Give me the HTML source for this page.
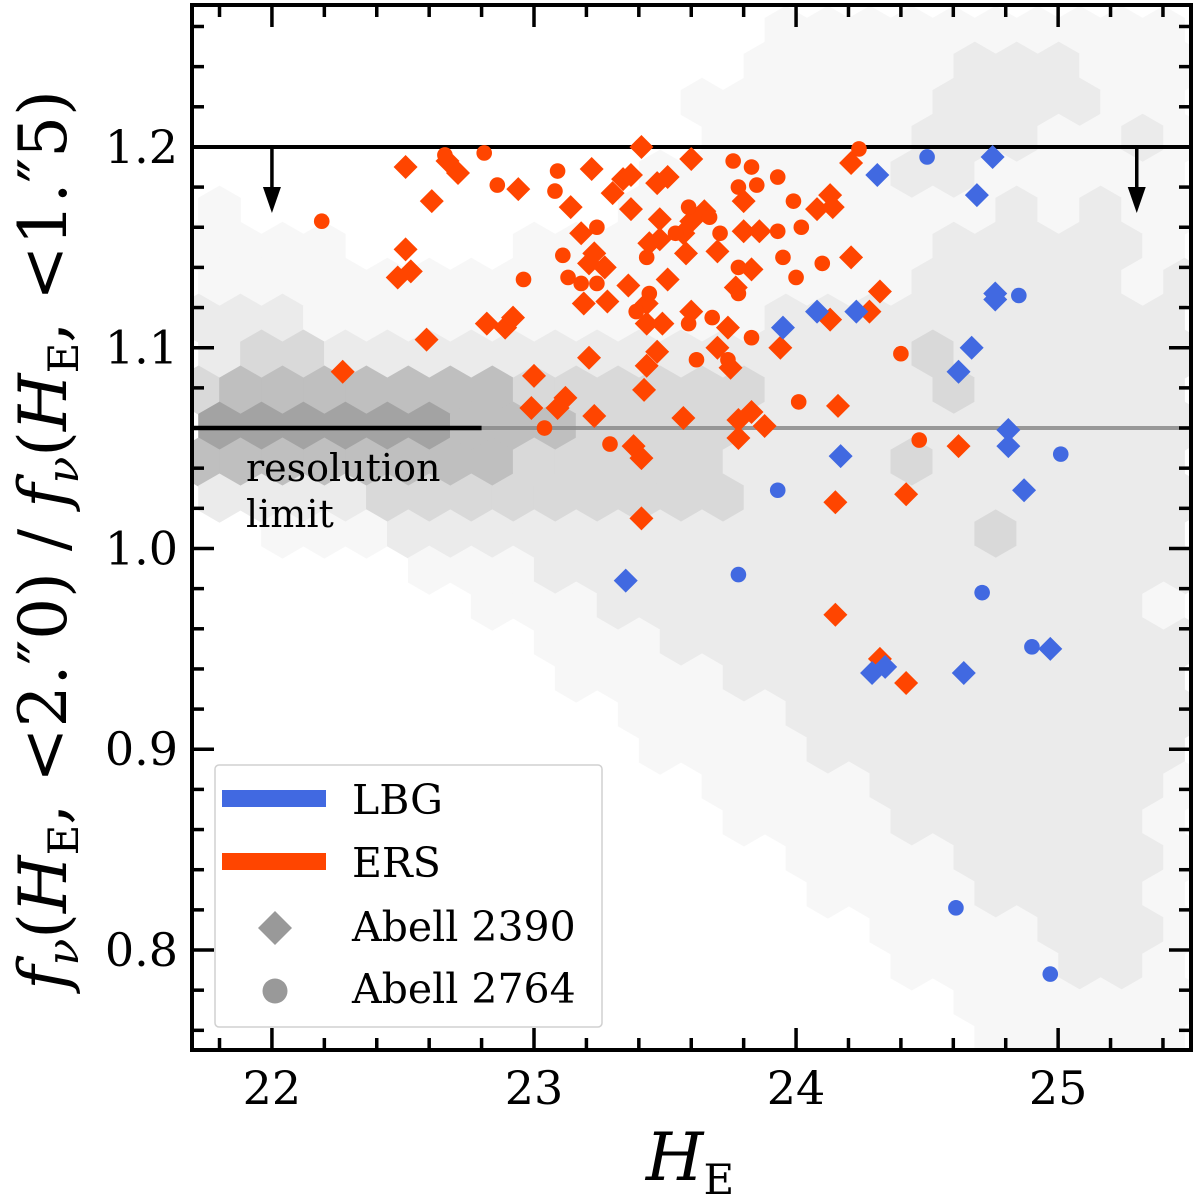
<!DOCTYPE html>
<html>
<head>
<meta charset="utf-8">
<style>
  html, body { margin: 0; padding: 0; background: #fff; }
  svg { display: block; }
  text { font-family: "DejaVu Serif", "Liberation Serif", serif; fill: #000; }
</style>
</head>
<body>
<svg id="chart" width="1200" height="1199" viewBox="0 0 1200 1199" xmlns="http://www.w3.org/2000/svg">
  <g id="hexbin"></g>
  <g id="reflines"></g>
  <g id="points"></g>
  <g id="legend"></g>
  <g id="axes"></g>
  <text x="690" y="1180" text-anchor="middle" font-size="66" font-style="italic">H<tspan font-style="normal" font-size="42" dy="14">E</tspan></text>
  <text transform="translate(66,540) rotate(-90)" text-anchor="middle" font-size="66"><tspan font-style="italic">f</tspan><tspan font-style="italic" font-size="44" dy="12">ν</tspan><tspan dy="-12">(</tspan><tspan font-style="italic">H</tspan><tspan font-size="42" dy="12">E</tspan><tspan dy="-12">, &lt;2.″0) / </tspan><tspan font-style="italic">f</tspan><tspan font-style="italic" font-size="44" dy="12">ν</tspan><tspan dy="-12">(</tspan><tspan font-style="italic">H</tspan><tspan font-size="42" dy="12">E</tspan><tspan dy="-12">, &lt;1.″5)</tspan></text>
</svg>
<script>
// ---- axis domain ----
const xDomain = [21.695, 25.507];
const yDomain = [0.7502, 1.2707];
const xTicks = [22, 23, 24, 25];
const xTickLabels = ["22", "23", "24", "25"];
const yTicks = [0.8, 0.9, 1.0, 1.1, 1.2];
const yTickLabels = ["0.8", "0.9", "1.0", "1.1", "1.2"];

// ---- series (H_E, ratio) ----
const ersDiamondX = [22.51,22.61,22.67,22.71,22.51,22.48,22.53,22.59,22.27,22.82,22.89,22.92,22.94,23.00,22.99,23.12,23.09,23.23,23.21,23.18,23.14,23.22,23.30,23.34,23.37,23.41,23.47,23.51,23.60,23.37,23.48,23.60,23.65,23.80,24.13,24.08,24.14,24.21,23.44,23.48,23.57,23.58,23.70,23.80,23.86,23.23,23.21,23.27,24.21,23.83,23.51,23.36,23.77,23.19,23.28,23.43,23.43,23.49,23.60,23.74,24.32,24.28,24.13,23.47,23.43,23.70,23.75,23.94,23.42,23.57,23.78,23.83,23.88,23.78,24.16,23.38,23.41,23.41,24.62,24.15,24.42,24.15,24.32,24.42];
const ersDiamondY = [1.190,1.173,1.193,1.187,1.149,1.135,1.138,1.104,1.088,1.112,1.110,1.115,1.179,1.086,1.070,1.075,1.070,1.066,1.095,1.157,1.170,1.189,1.177,1.184,1.186,1.200,1.182,1.185,1.194,1.169,1.164,1.163,1.168,1.173,1.176,1.169,1.170,1.192,1.152,1.154,1.157,1.147,1.148,1.158,1.158,1.147,1.142,1.140,1.145,1.139,1.134,1.131,1.130,1.122,1.123,1.122,1.112,1.112,1.118,1.110,1.128,1.118,1.114,1.098,1.091,1.100,1.090,1.100,1.079,1.065,1.064,1.068,1.061,1.055,1.071,1.051,1.045,1.015,1.051,1.023,1.027,0.967,0.945,0.933];
const ersCircleX = [22.19,22.66,22.81,22.86,23.09,23.08,23.76,23.83,23.93,23.78,23.85,24.24,23.99,23.59,23.67,23.24,23.54,23.71,23.93,24.02,23.11,23.43,23.95,24.10,22.96,23.13,23.18,23.24,23.44,23.78,23.78,24.00,23.39,23.59,23.68,23.83,23.62,23.74,24.01,23.04,23.29,24.47,24.40];
const ersCircleY = [1.163,1.196,1.197,1.181,1.188,1.178,1.193,1.190,1.185,1.180,1.181,1.199,1.173,1.170,1.165,1.160,1.157,1.157,1.158,1.160,1.146,1.145,1.145,1.142,1.134,1.135,1.132,1.132,1.127,1.140,1.127,1.135,1.118,1.112,1.115,1.105,1.094,1.094,1.073,1.060,1.052,1.054,1.097];
const lbgDiamondX = [24.31,24.75,24.69,24.08,24.23,23.95,24.17,24.81,24.81,24.76,24.76,24.67,24.62,24.87,24.97,24.29,24.34,24.64,23.35];
const lbgDiamondY = [1.186,1.195,1.176,1.118,1.118,1.110,1.046,1.059,1.051,1.127,1.124,1.100,1.088,1.029,0.950,0.938,0.941,0.938,0.984];
const lbgCircleX = [24.50,24.85,25.01,23.93,24.71,24.90,23.78,24.61,24.97];
const lbgCircleY = [1.195,1.126,1.047,1.029,0.978,0.951,0.987,0.821,0.788];

// ---- hexbin density levels ----
const hexRowY = [1.2581,1.2402,1.2222,1.2043,1.1864,1.1685,1.1505,1.1326,1.1147,1.0968,1.0789,1.0609,1.0430,1.0251,1.0072,0.9892,0.9713,0.9534,0.9355,0.9176,0.8996,0.8817,0.8638,0.8459,0.8279,0.8100,0.7921,0.7742,0.7562];
const hexLevels = [
"000000000000001111111111",
"000000000000011111222111",
"000000000000111111222211",
"000000000000111112221121",
"000000000001111112211111",
"100000000011111111121211",
"111100001111111111222221",
"111111111111111112222212",
"222111111111112222222222",
"233222222222222223222222",
"344444443333332222322222",
"555555444333322222222222",
"444444443333322223222222",
"222233333333322222222222",
"001112222222222222232222",
"000001112222222222222222",
"000000011122222222222221",
"000000001112222222222222",
"000000000111122222222222",
"000000000011112222222222",
"000000000001111222222222",
"000000000000111122222221",
"000000000000011112222221",
"000000000000001111222221",
"000000000000000111122221",
"000000000000000011112221",
"000000000000000001111221",
"000000000000000000111111",
"000000000000000000011111"
];
const hexX0 = 21.72, hexDX = 0.1601;
const hexColors = ["none","#f7f7f7","#ebebeb","#d9d9d9","#bfbfbf","#a3a3a3"];

const PL = 192, PR = 1191, PT = 5, PB = 1050;
const NS = "http://www.w3.org/2000/svg";
function X(v){ return PL + (v - xDomain[0]) / (xDomain[1] - xDomain[0]) * (PR - PL); }
function Y(v){ return PB - (v - yDomain[0]) / (yDomain[1] - yDomain[0]) * (PB - PT); }
function mk(tag, attrs, parent){
  const e = document.createElementNS(NS, tag);
  for (const k in attrs) e.setAttribute(k, attrs[k]);
  parent.appendChild(e);
  return e;
}

const svg = document.getElementById('chart');
const defs = mk('defs', {}, svg);
svg.insertBefore(defs, svg.firstChild);
const cp = mk('clipPath', {id:'plotclip'}, defs);
mk('rect', {x:PL, y:PT, width:PR-PL, height:PB-PT}, cp);

// hexbin
const hexG = document.getElementById('hexbin');
hexG.setAttribute('clip-path','url(#plotclip)');
const hr = 24.6, hw = hr * Math.sqrt(3);
hexLevels.forEach((row, j) => {
  for (let i = 0; i < row.length; i++) {
    const lvl = +row[i];
    if (!lvl) continue;
    const cx = X(hexX0 + hexDX * i + (j % 2 ? hexDX / 2 : 0));
    const cy = Y(hexRowY[j]);
    const pts = [[cx,cy-hr],[cx+hw/2,cy-hr/2],[cx+hw/2,cy+hr/2],[cx,cy+hr],[cx-hw/2,cy+hr/2],[cx-hw/2,cy-hr/2]].map(p=>p[0].toFixed(1)+','+p[1].toFixed(1)).join(' ');
    const h = mk('polygon', {points:pts, fill:hexColors[lvl]}, hexG);
    
    
  }
});

// reference lines
const rl = document.getElementById('reflines');
let e;
e = mk('line', {x1:PL, x2:PR, y1:Y(1.2), y2:Y(1.2), stroke:'#000', 'stroke-width':4}, rl);


[22.0, 25.3].forEach(ax => {
  const x = X(ax);
  const a = mk('line', {x1:x, x2:x, y1:Y(1.2), y2:Y(1.2)+44, stroke:'#000', 'stroke-width':3.5}, rl);
  
  
  const hd = mk('polygon', {points:`${x-9},${Y(1.2)+40} ${x+9},${Y(1.2)+40} ${x},${Y(1.2)+66}`, fill:'#000'}, rl);
  
  
});
e = mk('line', {x1:X(22.8), x2:PR, y1:Y(1.06), y2:Y(1.06), stroke:'#8a8a8a', 'stroke-width':4, 'stroke-opacity':0.85}, rl);


e = mk('line', {x1:PL, x2:X(22.8), y1:Y(1.06), y2:Y(1.06), stroke:'#000', 'stroke-width':4.5}, rl);


e = mk('text', {x:246, y:481, 'font-size':38}, rl);
e.textContent = 'resolution';


e = mk('text', {x:246, y:527, 'font-size':38}, rl);
e.textContent = 'limit';



// points
const pg = document.getElementById('points');
pg.setAttribute('clip-path','url(#plotclip)');
function diamond(x, y, c, name){
  const d = 12;
  const p = mk('polygon', {points:`${x},${y-d} ${x+d},${y} ${x},${y+d} ${x-d},${y}`, fill:c}, pg);
  
  
}
function circle(x, y, c, name){
  const p = mk('circle', {cx:x, cy:y, r:7.8, fill:c}, pg);
  
  
}
const ORANGE = '#ff4500', BLUE = '#4169e1';
ersDiamondX.forEach((v,i) => diamond(X(v), Y(ersDiamondY[i]), ORANGE, 'ers-abell2390-point'));
ersCircleX.forEach((v,i) => circle(X(v), Y(ersCircleY[i]), ORANGE, 'ers-abell2764-point'));
lbgDiamondX.forEach((v,i) => diamond(X(v), Y(lbgDiamondY[i]), BLUE, 'lbg-abell2390-point'));
lbgCircleX.forEach((v,i) => circle(X(v), Y(lbgCircleY[i]), BLUE, 'lbg-abell2764-point'));

// legend
const lg = document.getElementById('legend');
e = mk('rect', {x:215, y:765, width:387, height:262, rx:4, fill:'#fff', 'fill-opacity':0.85, stroke:'#d0d0d0', 'stroke-width':1.5}, lg);


e = mk('rect', {x:222, y:790, width:104, height:17, fill:BLUE}, lg);


e = mk('rect', {x:222, y:853, width:104, height:17, fill:ORANGE}, lg);


e = mk('polygon', {points:'275,911 292,928 275,945 258,928', fill:'#999'}, lg);


e = mk('circle', {cx:275, cy:991, r:12.5, fill:'#999'}, lg);


[['LBG',814,'legend-entry-lbg'],['ERS',877,'legend-entry-ers'],['Abell 2390',941,'legend-entry-abell2390'],['Abell 2764',1003,'legend-entry-abell2764']].forEach(t => {
  const tx = mk('text', {x:352, y:t[1], 'font-size':41}, lg);
  tx.textContent = t[0];
  
  
});

// axes
const ag = document.getElementById('axes');
for (let v = 21.8; v < 25.51; v += 0.2) {
  const x = X(v);
  const major = Math.abs(v - Math.round(v)) < 1e-6;
  const L = major ? 22 : 12;
  mk('line', {x1:x, x2:x, y1:PB, y2:PB-L, stroke:'#000', 'stroke-width':3.5}, ag);
  mk('line', {x1:x, x2:x, y1:PT, y2:PT+L, stroke:'#000', 'stroke-width':3.5}, ag);
}
for (let v = 0.76; v < 1.271; v += 0.02) {
  const y = Y(v);
  const major = Math.abs(v*10 - Math.round(v*10)) < 1e-6;
  const L = major ? 22 : 12;
  mk('line', {x1:PL, x2:PL+L, y1:y, y2:y, stroke:'#000', 'stroke-width':3.5}, ag);
  mk('line', {x1:PR, x2:PR-L, y1:y, y2:y, stroke:'#000', 'stroke-width':3.5}, ag);
}
xTicks.forEach((v,i) => {
  const t = mk('text', {x:X(v), y:1104, 'font-size':46, 'text-anchor':'middle'}, ag);
  t.textContent = xTickLabels[i];
  
  
});
yTicks.forEach((v,i) => {
  const t = mk('text', {x:178, y:Y(v)+16, 'font-size':46, 'text-anchor':'end'}, ag);
  t.textContent = yTickLabels[i];
  
  
});
e = mk('rect', {x:PL, y:PT, width:PR-PL, height:PB-PT, fill:'none', stroke:'#000', 'stroke-width':4}, ag);


</script>
</body>
</html>
